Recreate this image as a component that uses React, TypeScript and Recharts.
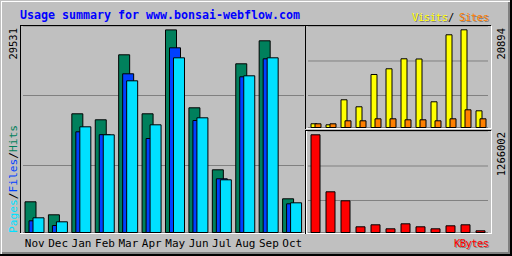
import { BarChart, Bar, XAxis, YAxis, CartesianGrid } from 'recharts'

const months = ['Nov', 'Dec', 'Jan', 'Feb', 'Mar', 'Apr', 'May', 'Jun', 'Jul', 'Aug', 'Sep', 'Oct']
const hits = [4475, 2580, 17302, 16427, 25902, 17302, 29531, 18176, 9139, 24590, 27942, 4912]
const files = [1705, 1020, 14678, 14260, 23132, 13701, 26922, 16325, 7827, 22695, 25319, 4183]
const pages = [2143, 1560, 15407, 14240, 22112, 15698, 25464, 16719, 7682, 22841, 25464, 4329]
const visits = [800, 578, 5925, 4428, 11337, 12556, 14695, 14650, 5497, 19828, 20894, 3572]
const sites = [790, 791, 1433, 1433, 1861, 1861, 1647, 1647, 1433, 1861, 3786, 1861]
const kbytes = [1266002, 527390, 410770, 73860, 99780, 47940, 112730, 73860, 47940, 86820, 99780, 22030]

const mainMax = 30100
const mainGrid = [9766, 19969]
const visitMax = 21707
const visitGrid = [6845, 14225]
const kbMax = 1315240
const kbGrid = [414660, 861700]

const data = months.map((m, i) => ({
  month: m,
  hits: hits[i],
  files: files[i],
  pages: pages[i],
  visits: visits[i],
  sites: sites[i],
  kbytes: kbytes[i],
}))

const MONO = '"DejaVu Sans Mono", monospace'
const BG = '#c0c0c0'
const HITS = '#00805c'
const FILES = '#0040ff'
const PAGES = '#00e0ff'
const VISITS = '#ffff00'
const SITES = '#ff8000'
const KB = '#ff0000'

const MonthTick = ({ x, y, payload }: any) => (
  <text x={x} y={y + 6} textAnchor="middle" fontFamily={MONO} fontSize={11} fill="#000">
    {payload.value}
  </text>
)

const Shadowed = ({ x, y, color, children, ...rest }: any) => (
  <g>
    <text x={x + 1} y={y + 1} fill="#808080" {...rest}>{children}</text>
    <text x={x} y={y} fill={color} {...rest}>{children}</text>
  </g>
)

export default function App() {
  return (
    <div style={{ position: 'fixed', left: 0, top: 0, width: 512, height: 256, background: BG, overflow: 'hidden' }}>
      {/* frame, panels, labels */}
      <svg width={512} height={256} style={{ position: 'absolute', left: 0, top: 0 }}>
        <rect x={0} y={0} width={512} height={256} fill={BG} />
        <line x1={1} y1={1.5} x2={510} y2={1.5} stroke="#fff" />
        <line x1={1.5} y1={1} x2={1.5} y2={254} stroke="#fff" />
        <rect x={508} y={2} width={2} height={252} fill="#808080" />
        <rect x={2} y={252} width={508} height={2} fill="#808080" />
        <rect x={510} y={0} width={2} height={256} fill="#000" />
        <rect x={0} y={254} width={512} height={2} fill="#000" />

        <text x={20} y={19} fontFamily={MONO} fontSize={11.6} fontWeight="bold" fill="#0000ff" textLength={280} lengthAdjust="spacingAndGlyphs">
          Usage summary for www.bonsai-webflow.com
        </text>

        <Shadowed x={412} y={20.5} color={VISITS} fontFamily={MONO} fontSize={10.5} textLength={36}>Visits</Shadowed>
        <text x={448} y={20.5} fontFamily={MONO} fontSize={10.5} fill="#000">/</text>
        <Shadowed x={459} y={20.5} color={SITES} fontFamily={MONO} fontSize={10.5} textLength={30}>Sites</Shadowed>

        <Shadowed x={454} y={246.5} color={KB} fontFamily={MONO} fontSize={10.5} textLength={35}>KBytes</Shadowed>

        <g transform="translate(16.5,233) rotate(-90)">
          <text x={0} y={0} fontFamily={MONO} fontSize={11} textLength={108} lengthAdjust="spacingAndGlyphs">
            <tspan fill={PAGES}>Pages</tspan>
            <tspan fill="#000">/</tspan>
            <tspan fill={FILES}>Files</tspan>
            <tspan fill="#000">/</tspan>
            <tspan fill={HITS}>Hits</tspan>
          </text>
        </g>

        <g transform="translate(17,28) rotate(-90)">
          <text x={0} y={0} textAnchor="end" fontFamily={MONO} fontSize={10.5} fill="#000">29531</text>
        </g>
        <g transform="translate(505,28) rotate(-90)">
          <text x={0} y={0} textAnchor="end" fontFamily={MONO} fontSize={10.5} fill="#000">20894</text>
        </g>
        <g transform="translate(505,132) rotate(-90)">
          <text x={0} y={0} textAnchor="end" fontFamily={MONO} fontSize={10.5} fill="#000">1266002</text>
        </g>

        {/* main panel */}
        <line x1={20} y1={25.5} x2={305} y2={25.5} stroke="#000" />
        <line x1={20.5} y1={25} x2={20.5} y2={233} stroke="#000" />
        <line x1={20} y1={233.5} x2={306} y2={233.5} stroke="#fff" />
        {/* right top panel */}
        <line x1={305} y1={25.5} x2={491} y2={25.5} stroke="#000" />
        <line x1={305.5} y1={25} x2={305.5} y2={129} stroke="#000" />
        <line x1={306} y1={128.5} x2={492} y2={128.5} stroke="#fff" />
        <line x1={491.5} y1={26} x2={491.5} y2={129} stroke="#fff" />
        {/* right bottom panel */}
        <line x1={305} y1={130.5} x2={491} y2={130.5} stroke="#000" />
        <line x1={305.5} y1={130} x2={305.5} y2={234} stroke="#000" />
        <line x1={306} y1={233.5} x2={492} y2={233.5} stroke="#fff" />
        <line x1={491.5} y1={131} x2={491.5} y2={234} stroke="#fff" />
        <line x1={306.5} y1={131} x2={306.5} y2={233} stroke="#fff" />
      </svg>

      <div style={{ position: 'absolute', left: 23, top: 26 }}>
        <BarChart width={281} height={226.5} data={data} margin={{ top: 0, right: 0, bottom: 0, left: 0 }} barSize={11} barGap={-7}>
          <CartesianGrid vertical={false} stroke="#808080" strokeWidth={1} />
          <XAxis dataKey="month" height={20} axisLine={false} tickLine={false} tick={<MonthTick />} interval={0} />
          <YAxis hide domain={[0, mainMax]} ticks={mainGrid} />
          <Bar dataKey="hits" fill={HITS} stroke="#000" strokeWidth={1} isAnimationActive={false} />
          <Bar dataKey="files" fill={FILES} stroke="#000" strokeWidth={1} isAnimationActive={false} />
          <Bar dataKey="pages" fill={PAGES} stroke="#000" strokeWidth={1} isAnimationActive={false} />
        </BarChart>
      </div>

      <div style={{ position: 'absolute', left: 307.5, top: 26 }}>
        <BarChart width={180} height={101.5} data={data} margin={{ top: 0, right: 0, bottom: 0, left: 0 }} barSize={6} barGap={-2}>
          <CartesianGrid vertical={false} stroke="#808080" strokeWidth={1} />
          <XAxis dataKey="month" hide />
          <YAxis hide domain={[0, visitMax]} ticks={visitGrid} />
          <Bar dataKey="visits" fill={VISITS} stroke="#000" strokeWidth={1} isAnimationActive={false} />
          <Bar dataKey="sites" fill={SITES} stroke="#000" strokeWidth={1} isAnimationActive={false} />
        </BarChart>
      </div>

      <div style={{ position: 'absolute', left: 307.5, top: 131 }}>
        <BarChart width={180} height={101.5} data={data} margin={{ top: 0, right: 0, bottom: 0, left: 0 }} barSize={9}>
          <CartesianGrid vertical={false} stroke="#808080" strokeWidth={1} />
          <XAxis dataKey="month" hide />
          <YAxis hide domain={[0, kbMax]} ticks={kbGrid} />
          <Bar dataKey="kbytes" fill={KB} stroke="#000" strokeWidth={1} isAnimationActive={false} />
        </BarChart>
      </div>
    </div>
  )
}
